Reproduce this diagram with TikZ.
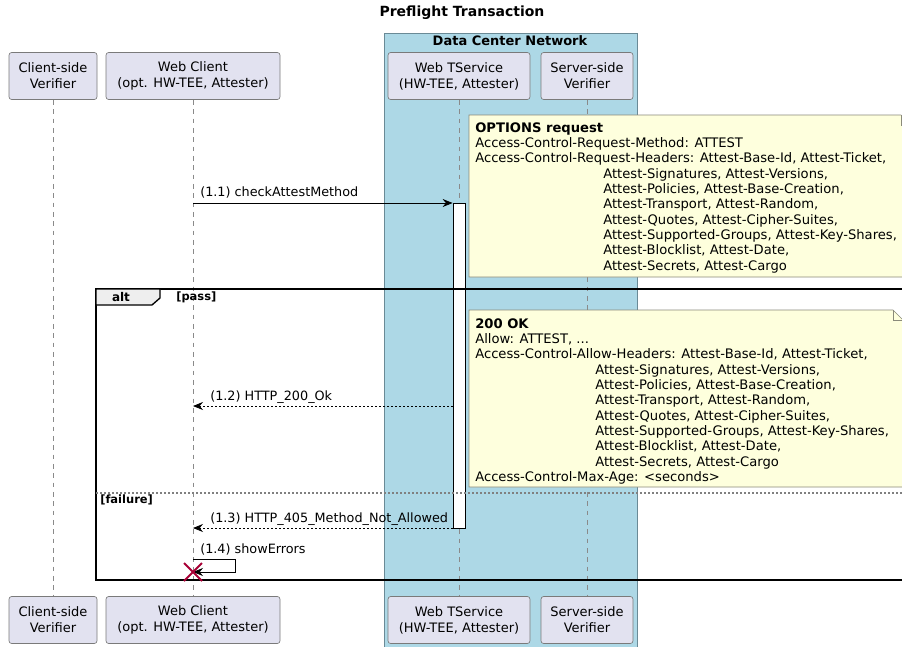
\documentclass[tikz,border=0pt]{standalone}
\usepackage{fontspec}
\setmainfont{DejaVu Sans}
\usetikzlibrary{arrows.meta,calc}
\definecolor{partfill}{HTML}{E2E2F0}
\definecolor{partline}{HTML}{7A7A7A}
\definecolor{boxblue}{HTML}{ADD8E6}
\definecolor{boxline}{HTML}{6A8A96}
\definecolor{notefill}{HTML}{FEFFDD}
\definecolor{noteline}{HTML}{8A8A7A}
\definecolor{xred}{HTML}{A80036}
\definecolor{tabfill}{HTML}{EEEEEE}
\definecolor{lifeline}{HTML}{8A8A8A}
\begin{document}
\begin{tikzpicture}[x=0.75pt,y=-0.75pt,
  part/.style={draw=partline, line width=0.5pt, fill=partfill, rounded corners=2pt,
    minimum height=35.25pt, align=center, inner sep=0pt,
    font=\fontsize{9.75}{12}\selectfont},
  life/.style={draw=lifeline, line width=0.5pt, dash pattern=on 3.5pt off 3.5pt},
  msg/.style={line width=0.6pt, -{Stealth[length=7.5pt,width=6pt,inset=2.5pt]}},
  rmsg/.style={msg, dash pattern=on 1.5pt off 1.5pt},
  msglabel/.style={anchor=west, inner sep=0pt, font=\fontsize{9.6}{12}\selectfont},
  notebox/.style={fill=notefill, draw=noteline, line width=0.5pt},
  notetext/.style={anchor=north west, inner sep=0pt, align=left,
    font=\fontsize{9.85}{11.5}\selectfont},
  guard/.style={anchor=west, inner sep=0pt, font=\bfseries\fontsize{8.6}{10}\selectfont}
]
\useasboundingbox (0,0) rectangle (902,646);
\clip (0,0) rectangle (902,646);
\fill[white] (0,0) rectangle (902,646);

% title
\node[font=\bfseries\fontsize{10.5}{12}\selectfont] (title) at (462,13) {Preflight Transaction};

% data center box
\path[fill=boxblue, draw=boxline, line width=0.5pt] (384,33) rectangle (637,660);
\node[font=\bfseries\fontsize{9.75}{12}\selectfont] (dcn) at (510,41) {Data Center Network};

% participants
\node[part, minimum width=66pt] (cvT) at (53,76) {Client-side\\Verifier};
\node[part, minimum width=130.5pt] (wcT) at (193,76) {Web Client\\(opt. HW-TEE, Attester)};
\node[part, minimum width=106.5pt] (wsT) at (459,76) {Web TService\\(HW-TEE, Attester)};
\node[part, minimum width=69pt] (svT) at (587,76) {Server-side\\Verifier};
\node[part, minimum width=66pt] (cvB) at (53,620) {Client-side\\Verifier};
\node[part, minimum width=130.5pt] (wcB) at (193,620) {Web Client\\(opt. HW-TEE, Attester)};
\node[part, minimum width=106.5pt] (wsB) at (459,620) {Web TService\\(HW-TEE, Attester)};
\node[part, minimum width=69pt] (svB) at (587,620) {Server-side\\Verifier};

% lifelines
\draw[life] (cvT.south) -- (cvB.north);
\draw[life] (wcT.south) -- (wcB.north);
\draw[life] (wsT.south) -- (wsB.north);
\draw[life] (svT.south) -- (svB.north);

% activation bar
\node[draw=black, fill=white, line width=0.6pt, inner sep=0pt, minimum width=9pt, minimum height=243.75pt, anchor=north] (act) at (459,203) {};

% note 1
\path[notebox] (469,115) -- (901,115) -- (911,125) -- (911,277) -- (469,277) -- cycle;
\draw[draw=noteline, line width=0.5pt] (901,115) -- (901,125) -- (911,125);
\node[notetext] (n1) at (475,122) {\textbf{OPTIONS request}\\
Access-Control-Request-Method: ATTEST\\
Access-Control-Request-Headers: Attest-Base-Id, Attest-Ticket,\\
\hspace*{96pt}Attest-Signatures, Attest-Versions,\\
\hspace*{96pt}Attest-Policies, Attest-Base-Creation,\\
\hspace*{96pt}Attest-Transport, Attest-Random,\\
\hspace*{96pt}Attest-Quotes, Attest-Cipher-Suites,\\
\hspace*{96pt}Attest-Supported-Groups, Attest-Key-Shares,\\
\hspace*{96pt}Attest-Blocklist, Attest-Date,\\
\hspace*{96pt}Attest-Secrets, Attest-Cargo};

% message 1.1
\coordinate (y11) at (0,203);
\draw[msg] (wcT.south |- y11) -- (act.west |- y11);
\node[msglabel] (l11) at (200,192) {(1.1) checkAttestMethod};

% alt frame
\draw[line width=1.3pt] (96,289) rectangle (912,580);
\path[fill=tabfill, draw=black, line width=1pt] (96,289) -- (160,289) -- (160,298) -- (152,305) -- (96,305) -- cycle;
\node[font=\bfseries\fontsize{9}{12}\selectfont, inner sep=0pt] (alt) at (121,297) {alt};
\node[guard] (pass) at (176,297) {[pass]};

% note 2
\path[notebox] (469,310) -- (893,310) -- (903,320) -- (903,487) -- (469,487) -- cycle;
\draw[draw=noteline, line width=0.5pt] (893,310) -- (893,320) -- (903,320);
\node[notetext] (n2) at (475,318) {\textbf{200 OK}\\
Allow: ATTEST, ...\\
Access-Control-Allow-Headers: Attest-Base-Id, Attest-Ticket,\\
\hspace*{90pt}Attest-Signatures, Attest-Versions,\\
\hspace*{90pt}Attest-Policies, Attest-Base-Creation,\\
\hspace*{90pt}Attest-Transport, Attest-Random,\\
\hspace*{90pt}Attest-Quotes, Attest-Cipher-Suites,\\
\hspace*{90pt}Attest-Supported-Groups, Attest-Key-Shares,\\
\hspace*{90pt}Attest-Blocklist, Attest-Date,\\
\hspace*{90pt}Attest-Secrets, Attest-Cargo\\
Access-Control-Max-Age: <seconds>};

% message 1.2
\coordinate (y12) at (0,406);
\draw[rmsg] (act.west |- y12) -- (wcT.south |- y12);
\node[msglabel] (l12) at (210,397) {(1.2) HTTP\_200\_Ok};

% separator
\draw[draw=gray, line width=0.8pt, dash pattern=on 1.5pt off 1.5pt] (96,493) -- (912,493);
\node[guard] (fail) at (100,500) {[failure]};

% message 1.3
\coordinate (y13) at (0,528);
\draw[rmsg] (act.west |- y13) -- (wcT.south |- y13);
\node[msglabel] (l13) at (210,519) {(1.3) HTTP\_405\_Method\_Not\_Allowed};

% message 1.4 (self)
\coordinate (y14a) at (0,559);
\coordinate (y14b) at (0,572);
\coordinate (x14) at (235,0);
\draw[msg] (wcT.south |- y14a) -- (x14 |- y14a) -- (x14 |- y14b) -- (wcT.south |- y14b);
\node[msglabel] (l14) at (200,549) {(1.4) showErrors};

% destroy mark
\coordinate (dx) at (wcT.south |- y14b);
\draw[xred, line width=1.4pt] ($(dx)+(-9,-9)$) -- ($(dx)+(9,9)$);
\draw[xred, line width=1.4pt] ($(dx)+(-9,9)$) -- ($(dx)+(9,-9)$);
\end{tikzpicture}
\end{document}
